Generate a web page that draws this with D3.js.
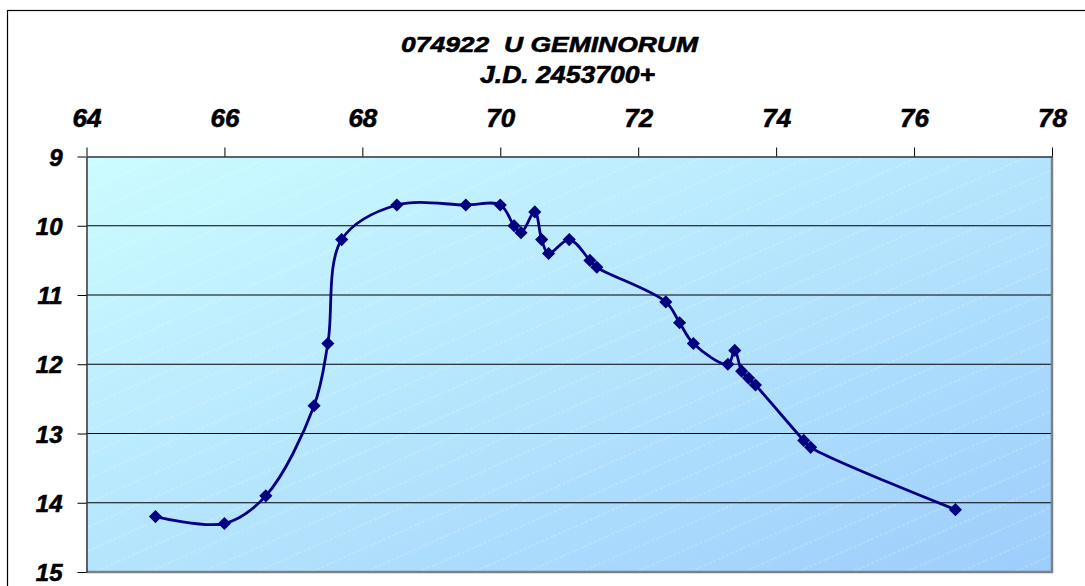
<!DOCTYPE html>
<style>
body { margin: 0; background: #fff; }
text { font-family: Arial, "Liberation Sans", sans-serif; font-weight: bold; font-style: italic; fill: #000; stroke: #000; stroke-width: 0.6px; }
</style>
<svg width="1085" height="586"></svg>
<script src="https://d3js.org/d3.v7.min.js"></script>
<script>

// observation times (J.D. - 2453700) and visual magnitudes
var jd  = [65.0, 66.0, 66.6, 67.3, 67.5, 67.7, 68.5, 69.5, 70.0, 70.2, 70.3, 70.5, 70.6, 70.7,
           71.0, 71.3, 71.4, 72.4, 72.6, 72.8, 73.3, 73.4, 73.5, 73.6, 73.7, 74.4, 74.5, 76.6];
var mag = [14.2, 14.3, 13.9, 12.6, 11.7, 10.2, 9.7, 9.7, 9.7, 10.0, 10.1, 9.8, 10.2, 10.4,
           10.2, 10.5, 10.6, 11.1, 11.4, 11.7, 12.0, 11.8, 12.1, 12.2, 12.3, 13.1, 13.2, 14.1];
var xTicks = [64, 66, 68, 70, 72, 74, 76, 78];
var yTicks = [9, 10, 11, 12, 13, 14, 15];
var titleLines = ["074922  U GEMINORUM", "J.D. 2453700+"];

var data = jd.map(function(d, i) { return { x: d, y: mag[i] }; });

var svg = d3.select("svg");
var plotL = 86.5, plotR = 1052, plotT = 156.5, plotB = 572;

var x = d3.scaleLinear().domain([64, 78]).range([plotL, plotR]);
var y = d3.scaleLinear().domain([9, 15]).range([plotT, plotB]);

// outer chart border
svg.append("rect")
  .attr("x", 7.5).attr("y", 10.5)
  .attr("width", 1100).attr("height", 600)
  .attr("fill", "none").attr("stroke", "#000").attr("stroke-width", 1.2);

var defs = svg.append("defs");
var grad = defs.append("linearGradient")
  .attr("id", "bg").attr("x1", "0").attr("y1", "0").attr("x2", "1").attr("y2", "1");
grad.append("stop").attr("offset", "0").attr("stop-color", "#ccfcff");
grad.append("stop").attr("offset", "1").attr("stop-color", "#9dcdfb");

var pat = defs.append("pattern")
  .attr("id", "hatch").attr("patternUnits", "userSpaceOnUse")
  .attr("width", 24).attr("height", 22)
  .attr("patternTransform", "rotate(-24)");
pat.append("line")
  .attr("x1", 0).attr("y1", 11).attr("x2", 24).attr("y2", 11)
  .attr("stroke", "#fff").attr("stroke-opacity", 0.35)
  .attr("stroke-width", 1).attr("stroke-dasharray", "3,2");

svg.append("rect")
  .attr("x", plotL).attr("y", plotT)
  .attr("width", plotR - plotL).attr("height", plotB - plotT)
  .attr("fill", "url(#bg)");
svg.append("rect")
  .attr("x", plotL).attr("y", plotT)
  .attr("width", plotR - plotL).attr("height", plotB - plotT)
  .attr("fill", "url(#hatch)");

// gridlines
svg.append("g").selectAll("line")
  .data(yTicks.slice(1, -1))
  .enter().append("line")
  .attr("x1", plotL).attr("x2", plotR)
  .attr("y1", function(d) { return y(d); })
  .attr("y2", function(d) { return y(d); })
  .attr("stroke", "#000").attr("stroke-width", 1);

// bottom / right shadowed border
svg.append("path")
  .attr("d", "M" + plotL + "," + plotB + "H" + plotR + "V" + plotT)
  .attr("fill", "none").attr("stroke", "#808080").attr("stroke-width", 2.5);

// top axis
var xAxis = svg.append("g")
  .attr("transform", "translate(0," + plotT + ")")
  .call(d3.axisTop(x).tickValues(xTicks).tickFormat(d3.format("d")).tickSize(9).tickSizeOuter(0));
xAxis.select(".domain").attr("stroke", "#333").attr("stroke-width", 1.5);
xAxis.selectAll(".tick line").attr("stroke", "#000");
xAxis.selectAll("text").style("font-size", "26px").attr("y", -30).attr("dy", 0);

// left axis
var yAxis = svg.append("g")
  .attr("transform", "translate(" + plotL + ",0)")
  .call(d3.axisLeft(y).tickValues(yTicks).tickFormat(d3.format("d")).tickSize(9).tickSizeOuter(0));
yAxis.select(".domain").attr("stroke", "#333").attr("stroke-width", 1.5);
yAxis.selectAll(".tick line").attr("stroke", "#000");
yAxis.selectAll("text").style("font-size", "24px").attr("dy", "0.36em").attr("x", -24);

// title
svg.append("text")
  .attr("x", 401).attr("y", 52)
  .attr("textLength", 297).attr("lengthAdjust", "spacingAndGlyphs")
  .style("font-size", "22px").style("white-space", "pre")
  .text(titleLines[0]);
svg.append("text")
  .attr("x", 480).attr("y", 83)
  .attr("textLength", 175).attr("lengthAdjust", "spacingAndGlyphs")
  .style("font-size", "23px")
  .text(titleLines[1]);

// light curve
var line = d3.line()
  .x(function(d) { return x(d.x); })
  .y(function(d) { return y(d.y); })
  .curve(d3.curveCatmullRom.alpha(0.5));

svg.append("path")
  .datum(data)
  .attr("d", line)
  .attr("fill", "none")
  .attr("stroke", "#000080")
  .attr("stroke-width", 2.8);

svg.append("g").selectAll("path")
  .data(data)
  .enter().append("path")
  .attr("d", d3.symbol().type(d3.symbolDiamond2).size(110))
  .attr("transform", function(d) { return "translate(" + x(d.x) + "," + y(d.y) + ")"; })
  .attr("fill", "#000080");

</script>
